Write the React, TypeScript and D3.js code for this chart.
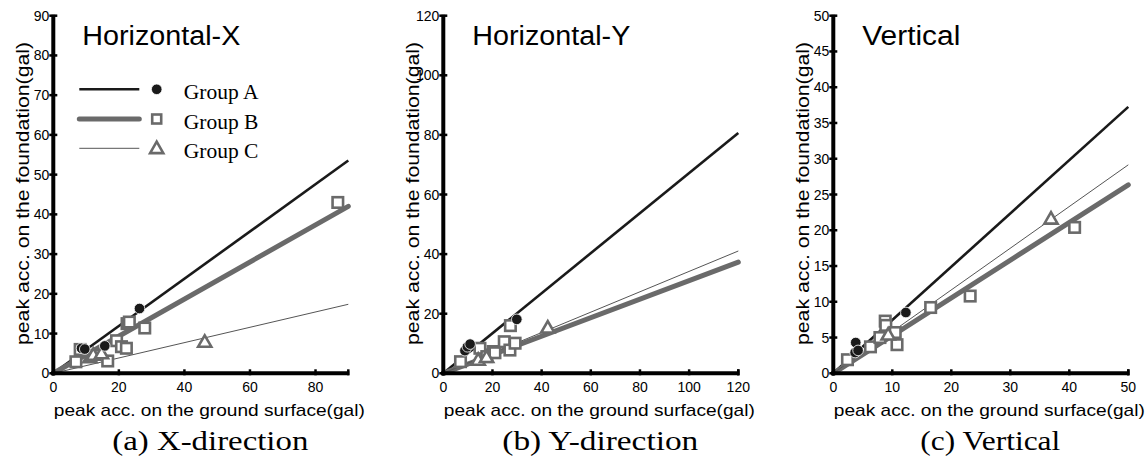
import React from 'react';
import * as d3 from 'd3';

type Pt = [number, number];

const groupNames = ['Group A', 'Group B', 'Group C'];

// (a) X-direction
const xDirGroupA: Pt[] = [[8.6, 6.3], [9.6, 6.1], [15.7, 6.9], [26.3, 16.3]];
const xDirGroupB: Pt[] = [[6.9, 2.9], [8.2, 6.0], [16.6, 3.1], [19.3, 8.2], [20.8, 6.7], [22.3, 6.3], [22.5, 12.5], [23.2, 12.9], [27.9, 11.4], [86.8, 43.0]];
const xDirGroupC: Pt[] = [[11.2, 4.0], [12.2, 4.6], [14.7, 5.0], [46.2, 7.9]];
const xDirSlopes = [0.595, 0.467, 0.193];
const xDirXTicks = [0, 20, 40, 60, 80];
const xDirYTicks = [0, 10, 20, 30, 40, 50, 60, 70, 80, 90];

// (b) Y-direction
const yDirGroupA: Pt[] = [[8.8, 7.6], [9.8, 8.9], [10.9, 9.8], [29.9, 18.1]];
const yDirGroupB: Pt[] = [[7.0, 3.9], [14.9, 8.4], [17.7, 5.6], [20.3, 7.3], [21.0, 6.9], [24.8, 10.6], [27.1, 7.8], [27.3, 16.0], [29.2, 10.1]];
const yDirGroupC: Pt[] = [[14.2, 4.5], [17.6, 5.4], [42.5, 15.3]];
const yDirSlopes = [0.672, 0.311, 0.342];
const yDirXTicks = [0, 20, 40, 60, 80, 100, 120];
const yDirYTicks = [0, 20, 40, 60, 80, 100, 120];

// (c) Vertical
const vertGroupA: Pt[] = [[3.8, 4.3], [3.7, 2.9], [4.2, 3.2], [12.3, 8.5]];
const vertGroupB: Pt[] = [[2.4, 1.9], [6.3, 3.7], [7.9, 5.0], [8.8, 7.3], [8.9, 6.7], [10.5, 5.7], [10.8, 4.0], [16.5, 9.2], [23.2, 10.8], [40.9, 20.4]];
const vertGroupC: Pt[] = [[9.3, 5.4], [36.9, 21.6]];
const vertSlopes = [0.745, 0.527, 0.583];
const vertXTicks = [0, 10, 20, 30, 40, 50];
const vertYTicks = [0, 5, 10, 15, 20, 25, 30, 35, 40, 45, 50];

const panelTitles = ['Horizontal-X', 'Horizontal-Y', 'Vertical'];
const panelCaptions = ['(a) X-direction', '(b) Y-direction', '(c) Vertical'];
const xAxisTitle = 'peak acc. on the ground surface(gal)';
const yAxisTitle = 'peak acc. on the foundation(gal)';

const panels = [
  { left: 53.3, xMax: 90, yMax: 90, A: xDirGroupA, B: xDirGroupB, C: xDirGroupC, slopes: xDirSlopes, xTicks: xDirXTicks, yTicks: xDirYTicks, titleW: 158, capW: 196 },
  { left: 443.3, xMax: 120, yMax: 120, A: yDirGroupA, B: yDirGroupB, C: yDirGroupC, slopes: yDirSlopes, xTicks: yDirXTicks, yTicks: yDirYTicks, titleW: 158, capW: 196 },
  { left: 833.3, xMax: 50, yMax: 50, A: vertGroupA, B: vertGroupB, C: vertGroupC, slopes: vertSlopes, xTicks: vertXTicks, yTicks: vertYTicks, titleW: 98, capW: 140 },
];

const W = 295;
const TOP = 15.7;
const BOTTOM = 373.3;
const SANS = '"Liberation Sans", Arial, sans-serif';
const NARROW = '"Liberation Sans Narrow", "Liberation Sans", Arial, sans-serif';
const SERIF = '"Liberation Serif", "Times New Roman", serif';
const GRAY = '#6a6a6a';
const BLACK = '#1a1a1a';

const lineStyles = [
  { stroke: BLACK, width: 2.6 },
  { stroke: GRAY, width: 5 },
  { stroke: '#555', width: 1 },
];

const triPath = d3.symbol(d3.symbolTriangle, 75)() as string;

function Square({ cx, cy, s = 10.5 }: { cx: number; cy: number; s?: number }) {
  return <rect x={cx - s / 2} y={cy - s / 2} width={s} height={s} fill="white" stroke={GRAY} strokeWidth={2.6} />;
}
function Tri({ cx, cy }: { cx: number; cy: number }) {
  return <path d={triPath} transform={`translate(${cx},${cy + 1})`} fill="white" stroke={GRAY} strokeWidth={2.6} strokeLinejoin="miter" />;
}
function Dot({ cx, cy }: { cx: number; cy: number }) {
  return <circle cx={cx} cy={cy} r={5.3} fill={BLACK} stroke="white" strokeWidth={0.8} />;
}

function Panel({ p, i }: { p: typeof panels[number]; i: number }) {
  const x = d3.scaleLinear().domain([0, p.xMax]).range([p.left, p.left + W]);
  const y = d3.scaleLinear().domain([0, p.yMax]).range([BOTTOM, TOP]);
  return (
    <g>
      {p.slopes.map((s, k) => (
        <line key={k} x1={x(0)} y1={y(0)} x2={x(p.xMax)} y2={y(s * p.xMax)}
          stroke={lineStyles[k].stroke} strokeWidth={lineStyles[k].width} strokeLinecap={k === 1 ? 'round' : 'butt'} />
      ))}
      {p.B.map((d, k) => <Square key={'b' + k} cx={x(d[0])} cy={y(d[1])} />)}
      {p.C.map((d, k) => <Tri key={'c' + k} cx={x(d[0])} cy={y(d[1])} />)}
      {p.A.map((d, k) => <Dot key={'a' + k} cx={x(d[0])} cy={y(d[1])} />)}
      <line x1={x(0)} x2={x(0)} y1={y(p.yMax) - 1} y2={BOTTOM + 2} stroke="black" strokeWidth={4} />
      <line x1={x(0) - 2} x2={x(p.xMax) + 1} y1={BOTTOM} y2={BOTTOM} stroke="black" strokeWidth={4} />
      {p.yTicks.map(t => (
        <g key={'yt' + t}>
          <line x1={x(0) - 4} x2={x(0) + 4} y1={y(t)} y2={y(t)} stroke="black" strokeWidth={2.5} />
          <text x={x(0) - 4} y={y(t) + 5} textAnchor="end" fontFamily={NARROW} fontSize={14}>{t}</text>
        </g>
      ))}
      {[...p.xTicks, p.xMax].map(t => (
        <line key={'xtl' + t} x1={x(t)} x2={x(t)} y1={BOTTOM - 4} y2={BOTTOM + 2} stroke="black" strokeWidth={2.5} />
      ))}
      {p.xTicks.map(t => (
        <text key={'xt' + t} x={x(t)} y={392} textAnchor="middle" fontFamily={NARROW} fontSize={14}>{t}</text>
      ))}
      <text x={p.left + 29} y={45} fontFamily={SANS} fontSize={27} textLength={p.titleW} lengthAdjust="spacingAndGlyphs">{panelTitles[i]}</text>
      <text x={p.left + 156} y={416} textAnchor="middle" fontFamily={SANS} fontSize={17} textLength={311} lengthAdjust="spacingAndGlyphs">{xAxisTitle}</text>
      <text transform={`translate(${p.left - 24},193.5) rotate(-90)`} textAnchor="middle" fontFamily={SANS} fontSize={19} textLength={303} lengthAdjust="spacingAndGlyphs">{yAxisTitle}</text>
      <text x={p.left + 157} y={450} textAnchor="middle" fontFamily={SERIF} fontSize={28} textLength={p.capW} lengthAdjust="spacingAndGlyphs">{panelCaptions[i]}</text>
      {i === 0 && groupNames.map((g, k) => {
        const ly = [89.3, 119, 148.3][k];
        return (
          <g key={g}>
            <line x1={p.left + 26} x2={p.left + 86} y1={ly} y2={ly} stroke={lineStyles[k].stroke} strokeWidth={lineStyles[k].width} strokeLinecap={k === 1 ? 'round' : 'butt'} />
            {k === 0 && <Dot cx={p.left + 103.4} cy={ly} />}
            {k === 1 && <Square cx={p.left + 103.4} cy={ly} s={9} />}
            {k === 2 && <Tri cx={p.left + 103.4} cy={ly} />}
            <text x={p.left + 130.5} y={ly + 10} fontFamily={SERIF} fontSize={21.5}>{g}</text>
          </g>
        );
      })}
    </g>
  );
}

export default function App() {
  return (
    <svg width={1146} height={465} style={{ position: 'absolute', left: 0, top: 0, background: 'white' }}>
      <rect width={1146} height={465} fill="white" />
      {panels.map((p, i) => <Panel key={i} p={p} i={i} />)}
    </svg>
  );
}
